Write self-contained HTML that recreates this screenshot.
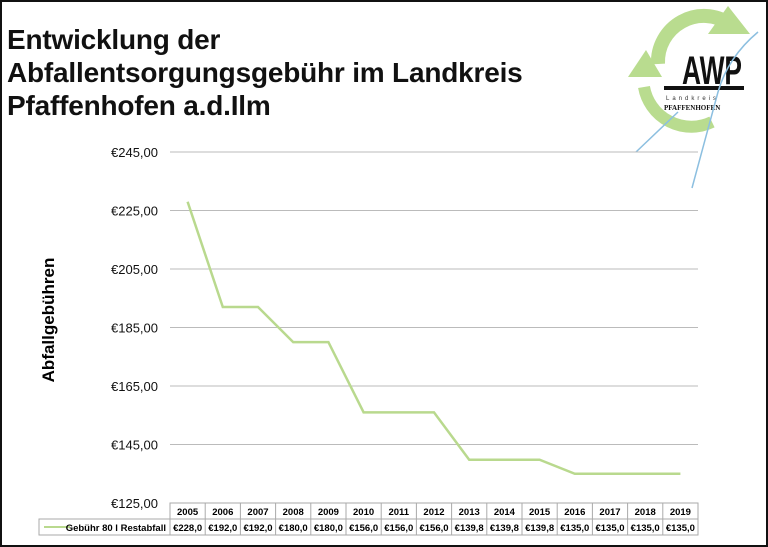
<!DOCTYPE html>
<html><head><meta charset="utf-8"><style>
body{margin:0;background:#fff;}
#wrap{position:relative;width:764px;height:543px;border:2px solid #111;overflow:hidden;font-family:"Liberation Sans",Arial,sans-serif;}
h1{position:absolute;left:5px;top:21px;margin:0;font-size:28px;line-height:33px;font-weight:bold;color:#111;letter-spacing:-0.2px;}
</style></head><body>
<div id="wrap">
<h1>Entwicklung der<br>Abfallentsorgungsgebühr im Landkreis<br>Pfaffenhofen a.d.Ilm</h1>
<svg id="logo" width="170" height="200" style="position:absolute;left:598px;top:0" viewBox="0 0 170 200">
<path d="M58,62 A46,46 0 0 1 130,22" fill="none" stroke="#b9dc8f" stroke-width="14"/>
<path d="M44,85 A48,48 0 0 0 112,120" fill="none" stroke="#b9dc8f" stroke-width="12"/>
<polygon points="108,32 150,32 128,4" fill="#b9dc8f"/>
<polygon points="28,75 62,75 46,48" fill="#b9dc8f"/>
<text x="82" y="82" font-size="40" font-weight="bold" font-family="Liberation Sans Narrow,Liberation Sans,sans-serif" fill="#111" textLength="60" lengthAdjust="spacingAndGlyphs">AWP</text>
<rect x="64" y="84" width="80" height="4" fill="#111"/>
<text x="66" y="98" font-size="6" fill="#333" letter-spacing="3">Landkreis</text>
<text x="64" y="108" font-size="7" font-weight="bold" fill="#111" font-family="Liberation Serif,serif">PFAFFENHOFEN</text>
<path d="M36,150 L78,110 M92,186 L118,90 Q128,55 158,30" fill="none" stroke="#8cbfe0" stroke-width="1.5"/>
</svg>
<div style="position:absolute;left:-28px;top:308px;width:150px;text-align:center;transform:rotate(-90deg);font-size:17px;font-weight:bold;">Abfallgebühren</div>
<svg id="chart" width="764" height="543" style="position:absolute;left:0;top:0"></svg>
</div>
<script>
const years=["2005","2006","2007","2008","2009","2010","2011","2012","2013","2014","2015","2016","2017","2018","2019"];
const fees=[228,192,192,180,180,156,156,156,139.8,139.8,139.8,135,135,135,135];
const feeLabels=["€228,0","€192,0","€192,0","€180,0","€180,0","€156,0","€156,0","€156,0","€139,8","€139,8","€139,8","€135,0","€135,0","€135,0","€135,0"];
const ticks=[125,145,165,185,205,225,245];
const tickLabels=["€125,00","€145,00","€165,00","€185,00","€205,00","€225,00","€245,00"];
const seriesName="Gebühr 80 l Restabfall";
const svg=document.getElementById('chart');
const NS="http://www.w3.org/2000/svg";
const X0=168,X1=696,Y0=501,Y1=150;
const cw=(X1-X0)/years.length;
const xs=i=>X0+cw*(i+0.5);
const ys=v=>Y0-(v-125)/(245-125)*(Y0-Y1);
function mk(t,a,txt){const e=document.createElementNS(NS,t);for(const k in a)e.setAttribute(k,a[k]);if(txt!=null)e.textContent=txt;svg.appendChild(e);return e;}
ticks.forEach((t,i)=>{
const g=mk('line',{x1:X0,x2:X1,y1:ys(t),y2:ys(t),stroke:i==0?'#999':'#bbb','stroke-width':1});


const l=mk('text',{x:X0-12,y:ys(t)+5,'text-anchor':'end','font-size':13,fill:'#111'},tickLabels[i]);


});
const T0=Y0,R=16;
mk('rect',{x:X0,y:T0,width:X1-X0,height:R*2,fill:'none',stroke:'#aaa'});
mk('rect',{x:37,y:T0+R,width:X0-37,height:R,fill:'none',stroke:'#aaa'});
mk('line',{x1:X0,x2:X1,y1:T0+R,y2:T0+R,stroke:'#aaa'});
years.forEach((y,i)=>{
mk('line',{x1:X0+cw*i,x2:X0+cw*i,y1:T0,y2:T0+2*R,stroke:'#aaa'});
const a=mk('text',{x:xs(i),y:T0+12,'text-anchor':'middle','font-size':9.5,'font-weight':'bold'},y);


const b=mk('text',{x:xs(i),y:T0+R+12,'text-anchor':'middle','font-size':9.5,'font-weight':'bold'},feeLabels[i]);


});
const lk=mk('line',{x1:42,x2:68,y1:T0+R+8,y2:T0+R+8,stroke:'#b9d98e','stroke-width':2});


const lt=mk('text',{x:X0-4,y:T0+R+12,'text-anchor':'end','font-size':9.5,'font-weight':'bold'},seriesName);


const pl=mk('polyline',{points:fees.map((v,i)=>xs(i)+','+ys(v)).join(' '),fill:'none',stroke:'#b9d98e','stroke-width':2.5});


</script>
</body></html>
